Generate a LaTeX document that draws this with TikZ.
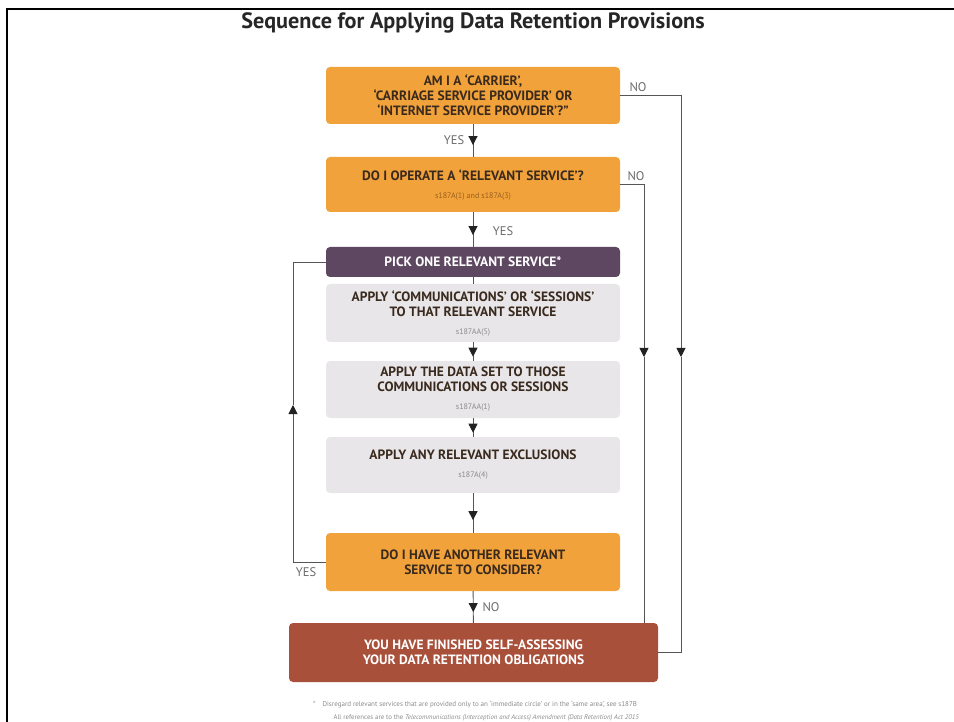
\documentclass[tikz,border=0pt]{standalone}
\usepackage{fontspec}
\setmainfont{PT Sans}
\usepackage{tikz}
\usetikzlibrary{arrows.meta,decorations.markings,positioning,calc}

\definecolor{askorange}{HTML}{F2A23A}
\definecolor{asktext}{HTML}{3A2A1E}
\definecolor{asksub}{HTML}{98611F}
\definecolor{pickpurple}{HTML}{5E4761}
\definecolor{stepgrey}{HTML}{E8E6E8}
\definecolor{stepsub}{HTML}{8C8A8C}
\definecolor{finbrown}{HTML}{A8503A}
\definecolor{linegrey}{HTML}{555555}
\definecolor{tipblack}{HTML}{222222}
\definecolor{labelgrey}{HTML}{6A6A6A}

\tikzset{
  box/.style={rounded corners=4pt,minimum width=294pt,align=center,inner sep=0pt,
    font=\fontsize{13.5}{15}\selectfont\bfseries},
  askbox/.style={box,fill=askorange,text=asktext},
  pickbox/.style={box,fill=pickpurple,text=white,minimum height=30pt},
  stepbox/.style={box,fill=stepgrey,text=asktext},
  finbox/.style={box,fill=finbrown,text=white,minimum width=369pt,minimum height=59pt},
  flow/.style={draw=linegrey,line width=0.9pt},
  tip/.style={-{Triangle[length=9pt,width=9pt,color=tipblack]}},
  midtip/.style={postaction={decorate},decoration={markings,
    mark=at position #1 with {\arrow[tipblack]{Triangle[length=9pt,width=9pt]}}}},
  yesno/.style={text=labelgrey,font=\fontsize{12.5}{14}\selectfont},
}
\newcommand{\refnote}[2]{\\[3pt]{\fontsize{8}{9}\selectfont\mdseries\color{#1}#2}}

\begin{document}
\begin{tikzpicture}[x=1pt,y=-1pt]
        \useasboundingbox (0,0) rectangle (954,722);
        % frame
        \draw[line width=2pt] (7,722) -- (7,9) -- (954,9);
        \node[text=black!85] (title) at (473,23) {\fontsize{22.2}{24}\selectfont\bfseries Sequence for Applying Data Retention Provisions};

        % boxes down the middle
        \node[askbox,minimum height=57pt] (carrier) at (473,95.5)
          {AM I A ‘CARRIER’,\\‘CARRIAGE SERVICE PROVIDER’ OR\\‘INTERNET SERVICE PROVIDER’?”};
        \node[askbox,minimum height=55pt] (relevant) at (473,184.5)
          {DO I OPERATE A ‘RELEVANT SERVICE’?\refnote{asksub}{s187A(1) and s187A(3)}};
        \node[pickbox] (pick) at (473,262) {PICK ONE RELEVANT SERVICE*};
        \node[stepbox,minimum height=58pt] (sessions) at (473,313)
          {APPLY ‘COMMUNICATIONS’ OR ‘SESSIONS’\\TO THAT RELEVANT SERVICE\refnote{stepsub}{s187AA(5)}};
        \node[stepbox,minimum height=57pt] (dataset) at (473,389.5)
          {APPLY THE DATA SET TO THOSE\\COMMUNICATIONS OR SESSIONS\refnote{stepsub}{s187AA(1)}};
        \node[stepbox,minimum height=56pt] (exclusions) at (473,465)
          {APPLY ANY RELEVANT EXCLUSIONS\refnote{stepsub}{s187A(4)}};
        \node[askbox,minimum height=58pt] (another) at (473,562)
          {DO I HAVE ANOTHER RELEVANT\\SERVICE TO CONSIDER?};
        \node[finbox] (finished) at (473.5,652.5)
          {YOU HAVE FINISHED SELF-ASSESSING\\YOUR DATA RETENTION OBLIGATIONS};

        % straight connectors
        \draw[flow,midtip=0.64] (carrier) -- (relevant);
        \draw[flow,midtip=0.66] (relevant) -- (pick);
        \draw[flow] (pick) -- (sessions);
        \draw[flow,midtip=0.78] (sessions) -- (dataset);
        \draw[flow,midtip=0.78] (dataset) -- (exclusions);
        \draw[flow,midtip=0.68] (exclusions) -- (another);
        \draw[flow,midtip=0.66] (another) -- (finished);

        % side connectors
        \coordinate (noone) at (681,357);
        \coordinate (notwo) at (644,357);
        \coordinate (yesback) at (293,405);
        \draw[flow,tip] (carrier.east) -| (noone);
        \draw[flow] (noone) |- (finished.east);
        \draw[flow,tip] (relevant.east) -| (notwo);
        \draw[flow] (notwo) -- (notwo |- finished.north);
        \draw[flow,tip] (another.west) -| (yesback);
        \draw[flow] (yesback) |- (pick.west);

        % labels
        \node[yesno] (yesa) at (454,140) {YES};
        \node[yesno] (yesb) at (503,231) {YES};
        \node[yesno] (noa) at (638,87) {NO};
        \node[yesno] (nob) at (636,176) {NO};
        \node[yesno] (yesc) at (306,572) {YES};
        \node[yesno] (noc) at (491,607) {NO};

        % footnotes
        \node[text=stepsub,font=\fontsize{7}{8}\selectfont] (notea) at (475,705)
          {*\quad Disregard relevant services that are provided only to an ‘immediate circle’ or in the ‘same area’, see s187B};
        \node[text=stepsub,font=\fontsize{6.8}{8}\selectfont,anchor=west] (noteb) at (330,718)
          {All references are to the \textit{Telecommunications (Interception and Access) Amendment (Data Retention) Act 2015}};
      \end{tikzpicture}
\end{document}
